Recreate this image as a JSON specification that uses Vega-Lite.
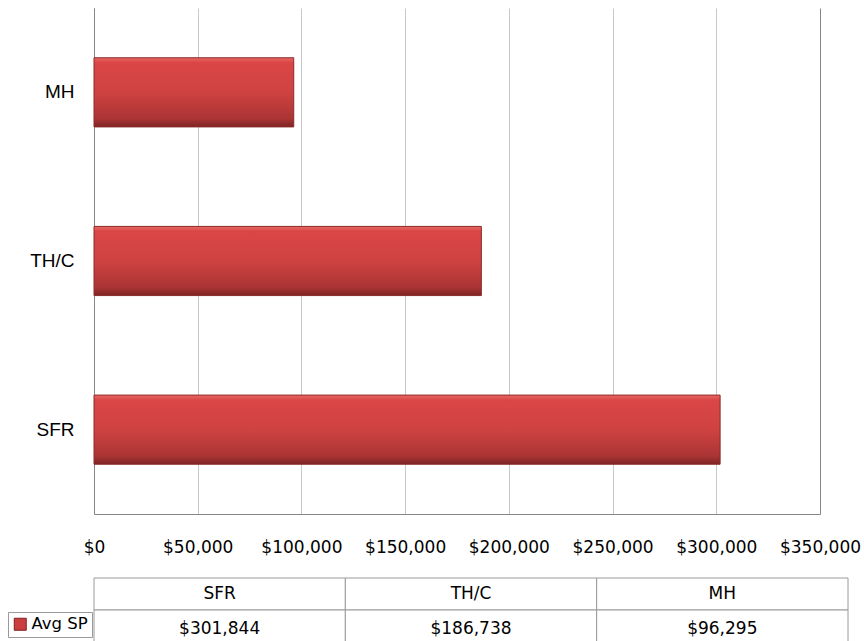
{
  "$schema": "https://vega.github.io/schema/vega-lite/v6.json",
  "padding": {"left": 7, "top": 8, "right": 0, "bottom": 0},
  "background": "white",
  "spacing": 22,
  "config": {"view": {"stroke": null}, "font": "DejaVu Sans"},
  "data": {"values": [
    {"cat": "SFR", "value": 301844, "series": "Avg SP"},
    {"cat": "TH/C", "value": 186738, "series": "Avg SP"},
    {"cat": "MH", "value": 96295, "series": "Avg SP"}
  ]},
  "resolve": {"scale": {"color": "independent"}, "legend": {"color": "independent"}},
  "vconcat": [
    {
      "width": 726,
      "height": 506,
      "mark": {
        "type": "bar",
        "stroke": "#8c2a2a",
        "strokeWidth": 1,
        "color": {
          "gradient": "linear",
          "x1": 0, "y1": 0, "x2": 0, "y2": 1,
          "stops": [
            {"offset": 0, "color": "#e86a62"},
            {"offset": 0.07, "color": "#da4646"},
            {"offset": 0.5, "color": "#cf4242"},
            {"offset": 0.88, "color": "#ab3434"},
            {"offset": 1, "color": "#7d2424"}
          ]
        }
      },
      "encoding": {
        "y": {
          "field": "cat",
          "type": "nominal",
          "sort": ["MH", "TH/C", "SFR"],
          "scale": {"paddingInner": 0.59, "paddingOuter": 0.295},
          "axis": {
            "title": null,
            "ticks": false,
            "labelPadding": 20,
            "labelFont": "Liberation Sans",
            "labelFontSize": 19,
            "labelColor": "#000000",
            "domainColor": "#868686",
            "grid": false
          }
        },
        "x": {
          "field": "value",
          "type": "quantitative",
          "scale": {"domain": [0, 350000], "nice": false},
          "axis": {
            "title": null,
            "values": [0, 50000, 100000, 150000, 200000, 250000, 300000, 350000],
            "format": "$,d",
            "ticks": false,
            "tickSize": 0,
            "labelPadding": 25,
            "labelFont": "DejaVu Sans",
            "labelFontSize": 17,
            "labelColor": "#000000",
            "labelFlush": false,
            "labelOverlap": false,
            "domainColor": "#868686",
            "grid": true,
            "gridColor": {
              "condition": {"test": "datum.value === 0 || datum.value === 350000", "value": "#868686"},
              "value": "#c8c8c8"
            },
            "gridOpacity": 1
          }
        }
      }
    },
    {
      "width": 754,
      "height": 64,
      "encoding": {
        "x": {
          "field": "cat",
          "type": "nominal",
          "sort": ["SFR", "TH/C", "MH"],
          "scale": {"paddingInner": 0, "paddingOuter": 0},
          "axis": null
        }
      },
      "layer": [
        {
          "mark": {"type": "rect", "fill": "white", "stroke": "#9a9a9a", "strokeWidth": 1},
          "encoding": {
            "y": {"datum": "h", "type": "nominal", "scale": {"domain": ["h", "v"], "paddingInner": 0, "paddingOuter": 0}, "axis": null}
          }
        },
        {
          "mark": {"type": "rect", "fill": "white", "stroke": "#9a9a9a", "strokeWidth": 1},
          "encoding": {
            "y": {"datum": "v", "type": "nominal"}
          }
        },
        {
          "mark": {"type": "text", "font": "DejaVu Sans", "fontSize": 17, "color": "#000000", "baseline": "middle"},
          "encoding": {
            "y": {"datum": "h", "type": "nominal"},
            "text": {"field": "cat", "type": "nominal"}
          }
        },
        {
          "mark": {"type": "text", "font": "DejaVu Sans", "fontSize": 17, "color": "#000000", "baseline": "middle", "dy": 3},
          "encoding": {
            "y": {"datum": "v", "type": "nominal"},
            "text": {"field": "value", "type": "quantitative", "format": "$,d"}
          }
        },
        {
          "mark": {"type": "text", "font": "DejaVu Sans", "fontSize": 17, "baseline": "middle", "dy": 3, "opacity": 0},
          "encoding": {
            "y": {"datum": "v", "type": "nominal"},
            "text": {"field": "value", "type": "quantitative", "format": "$,d"},
            "color": {
              "field": "series",
              "type": "nominal",
              "scale": {"range": ["#cc3d3d"]},
              "legend": {
                "title": null,
                "orient": "none",
                "legendX": -86,
                "legendY": 34,
                "symbolType": "square",
                "symbolSize": 144,
                "symbolOpacity": 1,
                "symbolStrokeColor": "#7f2020",
                "symbolStrokeWidth": 1,
                "labelFont": "DejaVu Sans",
                "labelFontSize": 16.5,
                "labelColor": "#000000",
                "labelOffset": 3,
                "strokeColor": "#9a9a9a",
                "padding": 4
              }
            }
          }
        }
      ]
    }
  ]
}
